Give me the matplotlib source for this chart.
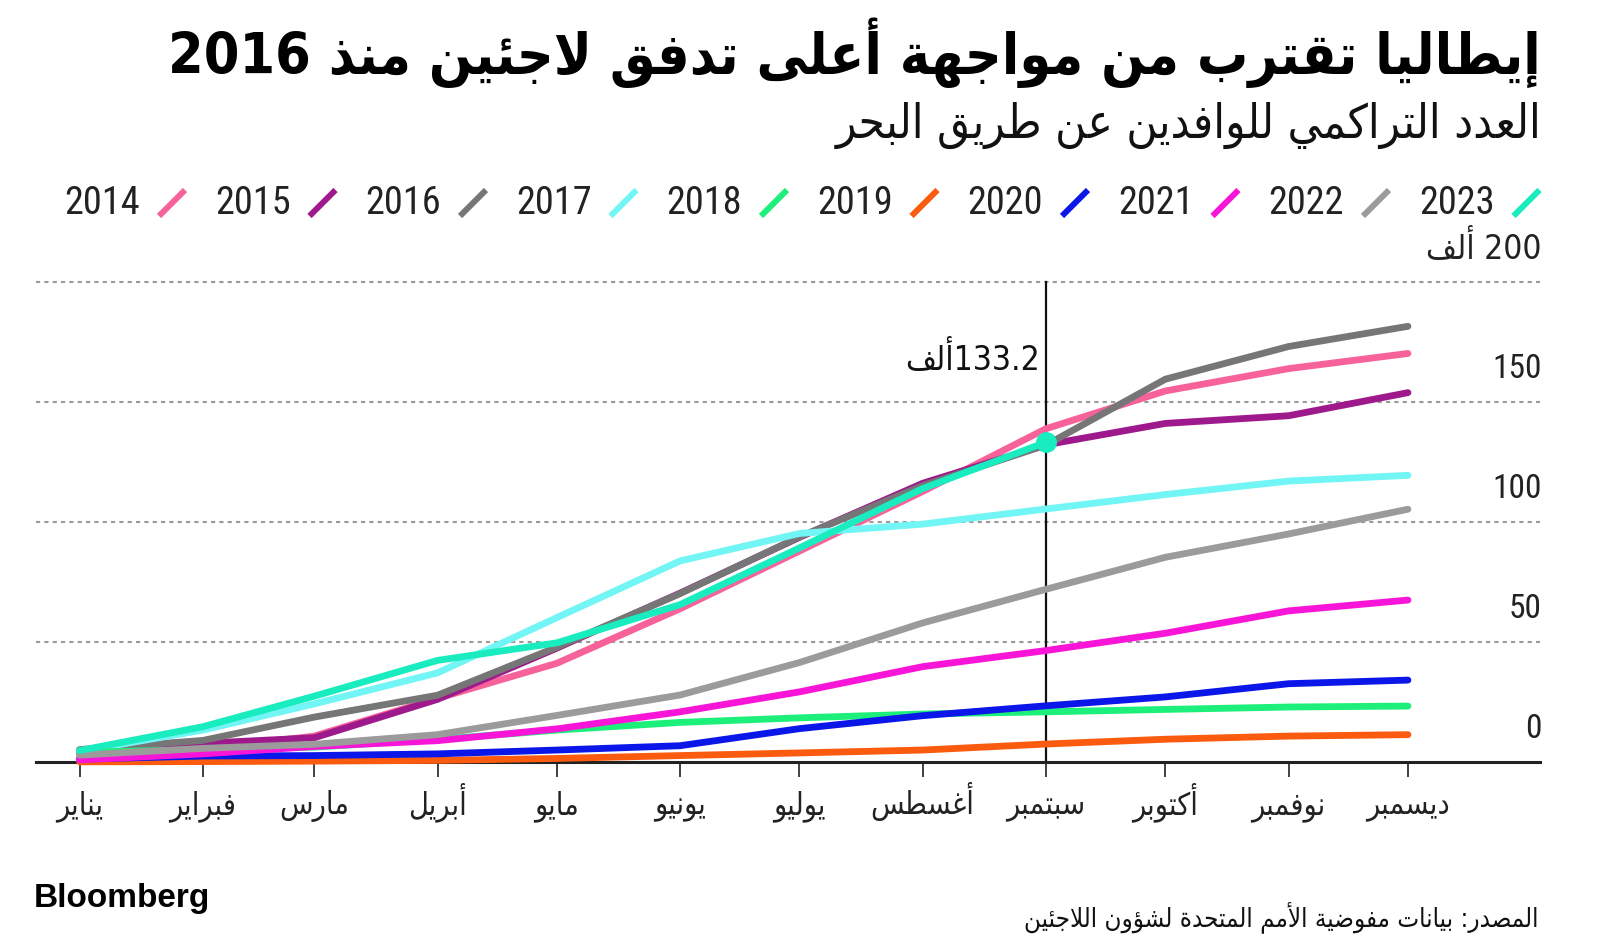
import os, re
import numpy as np
import pandas as pd
import matplotlib
matplotlib.use("Agg")
import matplotlib.pyplot as plt
from matplotlib import font_manager as fm
from matplotlib.font_manager import FontProperties
from matplotlib.ft2font import FT2Font
from matplotlib.lines import Line2D
import matplotlib.transforms as mtransforms

# ---------------- data (thousands of sea arrivals, cumulative) ----------------
month_labels = ["يناير", "فبراير", "مارس", "أبريل", "مايو", "يونيو",
                "يوليو", "أغسطس", "سبتمبر", "أكتوبر", "نوفمبر", "ديسمبر"]
years = ["2014", "2015", "2016", "2017", "2018", "2019", "2020", "2021", "2022", "2023"]
v2014 = [2.2, 5.5, 10.9, 26.6, 41.2, 63.9, 87.9, 112.7, 138.8, 154.5, 163.8, 170.1]
v2015 = [3.5, 7.9, 10.2, 26.2, 47.5, 70.4, 93.6, 116.1, 132.1, 141.0, 144.2, 153.8]
v2016 = [5.3, 9.1, 18.8, 27.9, 47.9, 70.2, 93.8, 115.1, 132.0, 159.4, 173.0, 181.4]
v2017 = [4.5, 13.4, 24.3, 37.2, 60.2, 83.8, 95.2, 99.1, 105.4, 111.4, 117.0, 119.4]
v2018 = [4.2, 5.2, 6.3, 9.5, 13.4, 16.6, 18.5, 20.1, 21.0, 22.0, 23.0, 23.4]
v2019 = [0.2, 0.3, 0.5, 0.8, 1.6, 2.8, 3.9, 5.1, 7.6, 9.6, 10.9, 11.5]
v2020 = [1.3, 2.6, 2.8, 3.5, 5.1, 6.9, 14.0, 19.4, 23.5, 27.2, 32.7, 34.2]
v2021 = [1.0, 3.5, 6.6, 9.0, 13.9, 21.0, 29.3, 39.8, 46.5, 53.7, 63.0, 67.5]
v2022 = [3.0, 5.8, 7.5, 11.5, 19.5, 28.0, 41.5, 58.0, 72.0, 85.3, 95.0, 105.3]
v2023 = [4.9, 14.8, 27.5, 42.4, 49.7, 65.6, 89.2, 113.9, 133.2]
series = [v2014, v2015, v2016, v2017, v2018, v2019, v2020, v2021, v2022, v2023]
colors = ["#f7629a", "#9e1a8c", "#767676", "#72f5f5", "#1df07a",
          "#fb5b0f", "#0b17e8", "#f815d8", "#9b9b9b", "#19ecbf"]
ytick_vals = [0, 50, 100, 150, 200]
ytick_text = ["0", "50", "100", "150", "200 ألف"]
highlight_label = "133.2ألف"

title = "إيطاليا تقترب من مواجهة أعلى تدفق لاجئين منذ 2016"
subtitle = "العدد التراكمي للوافدين عن طريق البحر"
source = "المصدر: بيانات مفوضية الأمم المتحدة لشؤون اللاجئين"

# ---------------- minimal Arabic shaping + visual ordering ----------------
DUAL = {'ئ': 0xFE89, 'ب': 0xFE8F, 'ت': 0xFE95, 'ث': 0xFE99, 'ج': 0xFE9D, 'ح': 0xFEA1,
        'خ': 0xFEA5, 'س': 0xFEB1, 'ش': 0xFEB5, 'ص': 0xFEB9, 'ض': 0xFEBD, 'ط': 0xFEC1,
        'ظ': 0xFEC5, 'ع': 0xFEC9, 'غ': 0xFECD, 'ف': 0xFED1, 'ق': 0xFED5, 'ك': 0xFED9,
        'ل': 0xFEDD, 'م': 0xFEE1, 'ن': 0xFEE5, 'ه': 0xFEE9, 'ي': 0xFEF1}
RIGHT = {'آ': 0xFE81, 'أ': 0xFE83, 'ؤ': 0xFE85, 'إ': 0xFE87, 'ا': 0xFE8D, 'ة': 0xFE93,
         'د': 0xFEA9, 'ذ': 0xFEAB, 'ر': 0xFEAD, 'ز': 0xFEAF, 'و': 0xFEED, 'ى': 0xFEEF}
LIG = {'آ': 0xFEF5, 'أ': 0xFEF7, 'إ': 0xFEF9, 'ا': 0xFEFB}


def shape(s):
    units = []
    i = 0
    while i < len(s):
        c = s[i]
        if c == 'ل' and i + 1 < len(s) and s[i + 1] in LIG:
            units.append(('R', LIG[s[i + 1]]))
            i += 2
            continue
        if c in DUAL:
            units.append(('D', DUAL[c]))
        elif c in RIGHT:
            units.append(('R', RIGHT[c]))
        else:
            units.append(('N', c))
        i += 1
    out = []
    for k, (t, v) in enumerate(units):
        if t == 'N':
            out.append(v)
            continue
        prev_j = k > 0 and units[k - 1][0] == 'D'
        next_j = t == 'D' and k + 1 < len(units) and units[k + 1][0] in 'DR'
        if t == 'R':
            form = 1 if prev_j else 0
        else:
            form = 3 if (prev_j and next_j) else 1 if prev_j else 2 if next_j else 0
        out.append(chr(v + form))
    return ''.join(out)


def ar(s):
    sh = shape(s)
    toks = re.findall(r'[0-9A-Za-z.]+|[^0-9A-Za-z.]+', sh)
    vis = []
    for t in reversed(toks):
        vis.append(t if re.match(r'[0-9A-Za-z.]', t) else t[::-1])
    return ''.join(vis)

# ---------------- fonts ----------------
def find_file(keys):
    files = [f.fname for f in fm.fontManager.ttflist]
    for k in keys:
        for p in files:
            if os.path.basename(p).lower() == k.lower():
                return p
    return None


def has_arabic(p):
    try:
        return FT2Font(p).get_char_index(0xFEDF) != 0
    except Exception:
        return False

ar_reg = find_file(["DejaVuSansCondensed.ttf"])
if ar_reg is None or not has_arabic(ar_reg):
    ar_reg = fm.findfont(FontProperties(family="DejaVu Sans"))
ar_bold = find_file(["DejaVuSansCondensed-Bold.ttf"])
if ar_bold is None or not has_arabic(ar_bold):
    ar_bold = fm.findfont(FontProperties(family="DejaVu Sans", weight="bold"))
num_path = find_file(["RobotoCondensed-Regular.ttf", "RobotoCondensed-Light.ttf",
                      "LiberationSansNarrow-Regular.ttf", "DejaVuSansCondensed.ttf"])
condensed_nums = num_path is not None
if num_path is None:
    num_path = ar_reg


def FP(path, size):
    return FontProperties(fname=path, size=size)

# ---------------- figure ----------------
W, H = 1600, 951
fig = plt.figure(figsize=(W / 100, H / 100), dpi=100)
fig.patch.set_facecolor("white")

ax_left, ax_right, ax_top, ax_base = 36, 1540, 270, 762.3
ax = fig.add_axes([ax_left / W, (H - ax_base) / H, (ax_right - ax_left) / W, (ax_base - ax_top) / H])
ax.set_facecolor("none")

dates = pd.date_range("2023-01-01", periods=12, freq="MS")
xpos = np.asarray(dates.dayofyear) - 1

ax.set_xlim(-10.96, 367.2)
ax.set_ylim(0, 204.83)

for vals, col in zip(series, colors):
    ax.plot(xpos[:len(vals)], vals, color=col, lw=4.9, solid_capstyle="round",
            solid_joinstyle="round", clip_on=False, zorder=3)

sep = xpos[len(v2023) - 1]
ax.plot([sep, sep], [0, 200], color="#111111", lw=1.6, zorder=2, clip_on=False)
ax.plot([sep], [v2023[-1]], "o", ms=14, color=colors[-1], zorder=5, clip_on=False)
ax.annotate(ar(highlight_label), xy=(sep, v2023[-1]), xytext=(-6, 83), textcoords="offset pixels",
            ha="right", va="center", fontproperties=FP(ar_reg, 24), color="#111111")

# grid
for v in ytick_vals[1:]:
    ax.axhline(v, color="#9a9a9a", lw=1.5, ls=(0, (2, 2)), zorder=1)

for s in ["top", "left", "right"]:
    ax.spines[s].set_visible(False)
ax.spines["bottom"].set_color("#222222")
ax.spines["bottom"].set_linewidth(2.2)
ax.set_yticks([])
ax.set_xticks(xpos)
ax.set_xticklabels([])
ax.tick_params(axis="x", length=11, width=1.3, color="#333333")

# month labels, baseline-aligned below the ticks
for x, m in zip(xpos, month_labels):
    ax.annotate(ar(m), xy=(x, 0), xytext=(0, -52), textcoords="offset pixels",
                ha="center", va="baseline", fontproperties=FP(ar_reg, 22), color="#222222")

# y labels (right side, above gridlines)
trans = mtransforms.blended_transform_factory(ax.transAxes, ax.transData)
for v, t in zip(ytick_vals, ytick_text):
    ax.annotate(ar(t), xy=(1.0, v), xycoords=trans, xytext=(2, 33), textcoords="offset pixels",
                ha="right", va="center", fontproperties=FP(num_path if v != 200 else ar_reg, 24),
                color="#222222")

# titles
fig.text(1541 / W, 1 - 53 / H, ar(title), ha="right", va="center",
         fontproperties=FP(ar_bold, 41), color="#000000")
fig.text(1541 / W, 1 - 125 / H, ar(subtitle), ha="right", va="center",
         fontproperties=FP(ar_reg, 34), color="#111111")

# legend (right-to-left items: swatch on the right of the year)
leg_y = 203
for i, (yr, col) in enumerate(zip(years, colors)):
    cx = 172 + 150.5 * i
    fig.add_artist(Line2D([(cx - 13) / W, (cx + 13) / W], [1 - (leg_y + 13) / H, 1 - (leg_y - 13) / H],
                          transform=fig.transFigure, color=col, lw=4.3, solid_capstyle="butt"))
    fig.text((cx - 32) / W, 1 - leg_y / H, yr, ha="right", va="center",
             fontproperties=FP(num_path, 27.5 if condensed_nums else 22), color="#222222")

# footer
fig.text(34 / W, 1 - 899 / H, "Bloomberg", ha="left", va="center",
         fontproperties=FontProperties(family="Liberation Sans", weight="bold", size=24), color="#000000")
fig.text(1539 / W, 1 - 918 / H, ar(source), ha="right", va="center",
         fontproperties=FP(ar_reg, 18.5), color="#111111")

fig.savefig("out.png", dpi=100, facecolor="white")
